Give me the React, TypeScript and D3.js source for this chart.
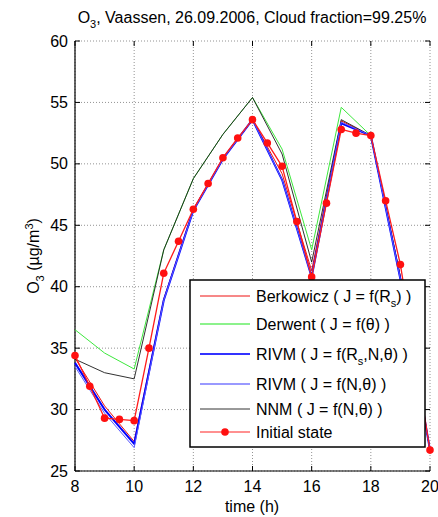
import React from "react";
import * as d3 from "d3";

const hours = [8, 9, 10, 11, 12, 13, 14, 15, 16, 17, 18, 19, 20];
const berkowicz = [34.2, 30.3, 27.4, 39.0, 46.3, 50.4, 53.6, 49.2, 41.3, 53.5, 52.3, 40.8, 26.7];
const derwent = [36.5, 34.6, 33.3, 43.0, 48.8, 52.4, 55.4, 51.2, 43.0, 54.6, 52.3, 40.8, 26.7];
const rivmRsNT = [33.8, 30.0, 27.2, 38.9, 46.2, 50.4, 53.6, 48.7, 40.8, 53.3, 52.3, 40.6, 26.7];
const rivmNT = [33.5, 29.7, 26.9, 38.9, 46.2, 50.4, 53.6, 48.7, 40.8, 53.4, 52.3, 40.6, 26.7];
const nnm = [34.1, 33.0, 32.5, 43.0, 48.8, 52.4, 55.4, 50.8, 42.0, 53.6, 52.3, 40.7, 26.7];

const halfHours = [8, 8.5, 9, 9.5, 10, 10.5, 11, 11.5, 12, 12.5, 13, 13.5, 14, 14.5, 15, 15.5, 16, 16.5, 17, 17.5, 18, 18.5, 19, 19.5, 20];
const initialState = [34.4, 31.9, 29.3, 29.2, 29.1, 35.0, 41.1, 43.7, 46.3, 48.4, 50.5, 52.1, 53.6, 51.7, 49.8, 45.3, 40.8, 46.8, 52.8, 52.5, 52.3, 47.0, 41.8, 34.2, 26.7];

const xTicks = [8, 10, 12, 14, 16, 18, 20];
const yTicks = [25, 30, 35, 40, 45, 50, 55, 60];

const FONT = "'Liberation Sans', Arial, sans-serif";

export default function App() {
  const left = 75, right = 430, top = 41, bottom = 471;
  const x = d3.scaleLinear().domain([8, 20]).range([left, right]);
  const y = d3.scaleLinear().domain([25, 60]).range([bottom, top]);

  const line = (xs: number[], ys: number[]) =>
    d3.line<number>().x((_, i) => x(xs[i])).y((v) => y(v))(ys) || "";

  const series = [
    { data: derwent, color: "#3de83d", w: 1 },
    { data: berkowicz, color: "#ee1111", w: 1 },
    { data: nnm, color: "#1a1a1a", w: 0.9 },
    { data: rivmRsNT, color: "#0000ff", w: 2 },
    { data: rivmNT, color: "#5a5aff", w: 1 },
  ];

  const legendX = 190, legendY = 280, legendW = 235, legendH = 167;
  const legendRows = [
    { y: 296, color: "#ee1111", w: 1, label: "berk" },
    { y: 324, color: "#66ee66", w: 1.5, label: "der" },
    { y: 354, color: "#3333ff", w: 2, label: "rivm1" },
    { y: 384, color: "#7777ff", w: 1.5, label: "rivm2" },
    { y: 409, color: "#333", w: 1, label: "nnm" },
    { y: 432, color: "#ff2222", w: 1.2, label: "init" },
  ];

  const labelFor = (k: string) => {
    const sub = (t: string) => (
      <>
        <tspan dy={5} fontSize={11}>{t}</tspan>
        <tspan dy={-5}>{""}</tspan>
      </>
    );
    switch (k) {
      case "berk":
        return (<>Berkowicz ( J = f(R<tspan dy={5} fontSize={11}>s</tspan><tspan dy={-5}>) )</tspan></>);
      case "der":
        return <>Derwent ( J = f(θ) )</>;
      case "rivm1":
        return (<>RIVM ( J = f(R<tspan dy={5} fontSize={11}>s</tspan><tspan dy={-5}>,N,θ) )</tspan></>);
      case "rivm2":
        return <>RIVM ( J = f(N,θ) )</>;
      case "nnm":
        return <>NNM ( J = f(N,θ) )</>;
      default:
        return <>Initial state</>;
    }
  };

  return (
    <svg width={438} height={517} style={{ position: "absolute", left: 0, top: 0, background: "#fff" }} fontFamily={FONT}>
      <rect x={0} y={0} width={438} height={517} fill="#fff" />
      {/* grid */}
      {xTicks.map((t) => (
        <line key={"gx" + t} x1={x(t)} x2={x(t)} y1={top} y2={bottom} stroke="#777" strokeWidth={0.8} strokeDasharray="1,2" />
      ))}
      {yTicks.map((t) => (
        <line key={"gy" + t} x1={left} x2={right} y1={y(t)} y2={y(t)} stroke="#777" strokeWidth={0.8} strokeDasharray="1,2" />
      ))}
      {/* ticks */}
      {xTicks.map((t) => (
        <g key={"tx" + t}>
          <line x1={x(t)} x2={x(t)} y1={bottom} y2={bottom - 5} stroke="#000" />
          <line x1={x(t)} x2={x(t)} y1={top} y2={top + 5} stroke="#000" />
          <text x={x(t)} y={492} fontSize={16} textAnchor="middle">{t}</text>
        </g>
      ))}
      {yTicks.map((t) => (
        <g key={"ty" + t}>
          <line x1={left} x2={left + 5} y1={y(t)} y2={y(t)} stroke="#000" />
          <line x1={right} x2={right - 5} y1={y(t)} y2={y(t)} stroke="#000" />
          <text x={68} y={y(t) + 5.5} fontSize={16} textAnchor="end">{t}</text>
        </g>
      ))}
      {/* axes */}
      <line x1={left} x2={left} y1={top} y2={bottom} stroke="#000" strokeWidth={1.2} />
      <line x1={left} x2={right} y1={bottom} y2={bottom} stroke="#000" strokeWidth={1.2} />

      {/* series */}
      <g fill="none" strokeLinejoin="round">
        {series.map((s, i) => (
          <path key={i} d={line(hours, s.data)} stroke={s.color} strokeWidth={s.w} />
        ))}
        <path d={line(halfHours, initialState)} stroke="#ff1a1a" strokeWidth={1.3} />
      </g>
      {initialState.map((v, i) => (
        <circle key={"d" + i} cx={x(halfHours[i])} cy={y(v)} r={3.8} fill="#ff1010" />
      ))}

      {/* legend */}
      <rect x={legendX} y={legendY} width={legendW} height={legendH} fill="#fff" stroke="#000" strokeWidth={1.5} />
      {legendRows.map((r) => (
        <g key={r.label}>
          <line x1={200} x2={250} y1={r.y} y2={r.y} stroke={r.color} strokeWidth={r.w} />
          {r.label === "init" && <circle cx={225} cy={r.y} r={3.8} fill="#ff1010" />}
          <text x={256} y={r.y + 5.5} fontSize={16}>{labelFor(r.label)}</text>
        </g>
      ))}

      {/* title */}
      <text x={252} y={23} fontSize={16} textAnchor="middle">
        O<tspan dy={5} fontSize={11}>3</tspan><tspan dy={-5}>, Vaassen, 26.09.2006, Cloud fraction=99.25%</tspan>
      </text>
      {/* x label */}
      <text x={252} y={512} fontSize={16} textAnchor="middle">time (h)</text>
      {/* y label */}
      <text transform={`translate(39,${(top + bottom) / 2}) rotate(-90)`} fontSize={16} textAnchor="middle">
        O<tspan dy={5} fontSize={11}>3</tspan><tspan dy={-5}> (µg/m</tspan><tspan dy={-6} fontSize={11}>3</tspan><tspan dy={6}>)</tspan>
      </text>
    </svg>
  );
}
